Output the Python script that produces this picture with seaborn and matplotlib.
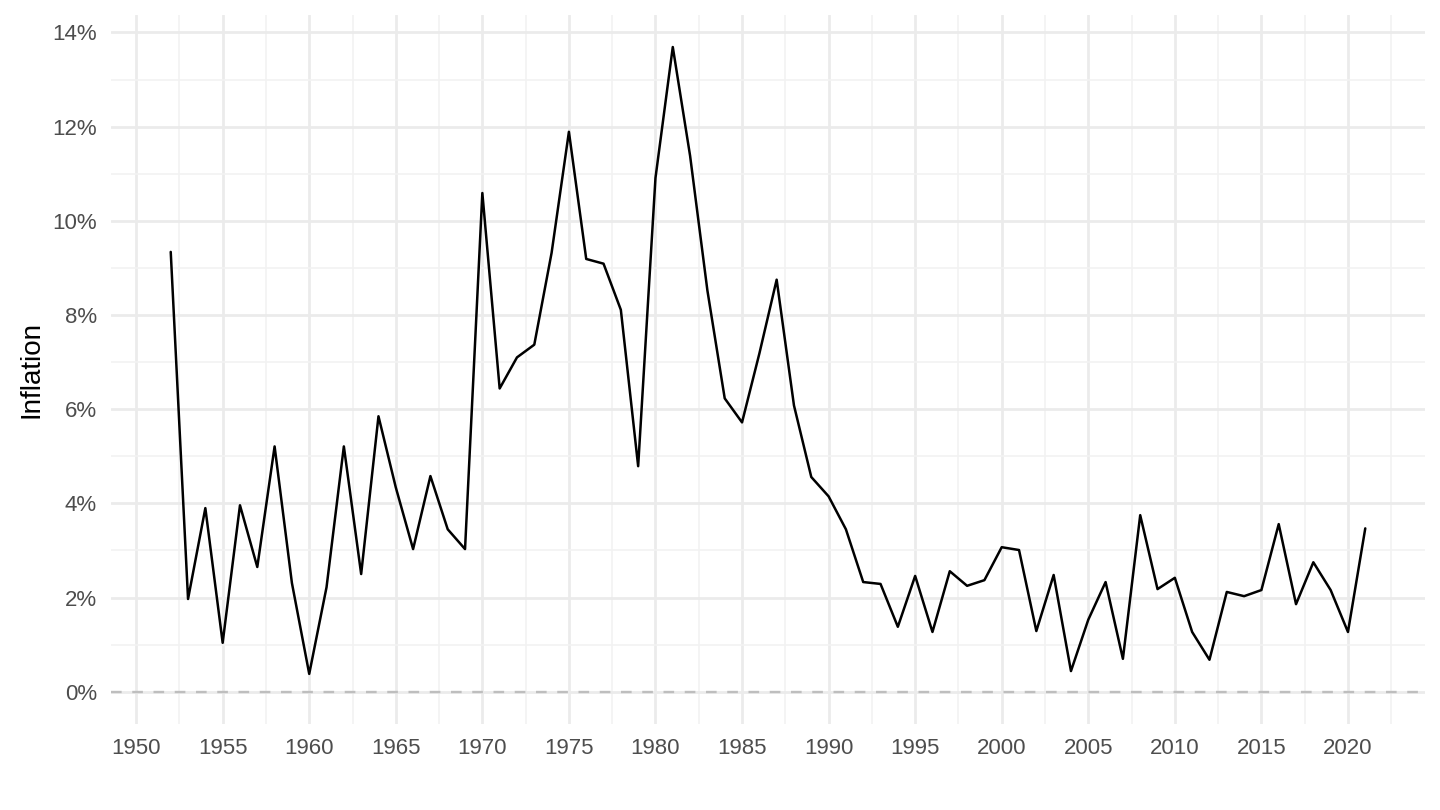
import pandas as pd
import matplotlib
matplotlib.use("Agg")
import matplotlib.pyplot as plt
import seaborn as sns
from matplotlib.ticker import MultipleLocator, FuncFormatter

years = list(range(1952, 2022))
inflation = [9.34, 1.97, 3.90, 1.04, 3.96, 2.65, 5.21, 2.31, 0.38, 2.22,
             5.21, 2.50, 5.85, 4.34, 3.03, 4.58, 3.45, 3.03, 10.59, 6.44,
             7.10, 7.37, 9.32, 11.89, 9.19, 9.09, 8.11, 4.79, 10.91, 13.69,
             11.38, 8.52, 6.23, 5.72, 7.18, 8.75, 6.08, 4.56, 4.15, 3.45,
             2.33, 2.29, 1.38, 2.46, 1.27, 2.56, 2.25, 2.37, 3.07, 3.01,
             1.29, 2.48, 0.44, 1.53, 2.33, 0.70, 3.75, 2.18, 2.42, 1.27,
             0.68, 2.12, 2.03, 2.16, 3.56, 1.86, 2.75, 2.16, 1.27, 3.47]

df = pd.DataFrame({"year": years, "inflation": inflation})

sns.set_theme(style="white")
plt.rcParams["font.family"] = ["Liberation Sans", "DejaVu Sans"]

fig = plt.figure(figsize=(14.4, 8.1), dpi=100)
ax = fig.add_axes([111 / 1440, 86 / 810, (1425 - 111) / 1440, (724 - 15) / 810])

ax.axhline(0, color="#BEBEBE", lw=1.7, linestyle=(0, (4.5, 4.5)), zorder=2)
sns.lineplot(data=df, x="year", y="inflation", color="black", lw=1.8, ax=ax, zorder=3)

ax.set_xlim(1948.55, 2024.45)
ax.set_ylim(-0.684, 14.37)
ax.xaxis.set_major_locator(MultipleLocator(5))
ax.xaxis.set_minor_locator(MultipleLocator(2.5))
ax.yaxis.set_major_locator(MultipleLocator(2))
ax.yaxis.set_minor_locator(MultipleLocator(1))
ax.yaxis.set_major_formatter(FuncFormatter(lambda v, p: f"{v:.0f}%"))
ax.xaxis.set_major_formatter(FuncFormatter(lambda v, p: f"{v:.0f}"))

ax.grid(which="major", color="#EBEBEB", lw=2.0, zorder=0)
ax.grid(which="minor", color="#F2F2F2", lw=1.2, zorder=0)
ax.set_axisbelow(True)
for s in ax.spines.values():
    s.set_visible(False)
ax.tick_params(which="both", length=0)
ax.tick_params(axis="both", labelsize=16, labelcolor="#4D4D4D", pad=10)

ax.set_xlabel("")
ax.set_ylabel("Inflation", fontsize=20, color="black", labelpad=6)

fig.savefig("out.png", dpi=100)
